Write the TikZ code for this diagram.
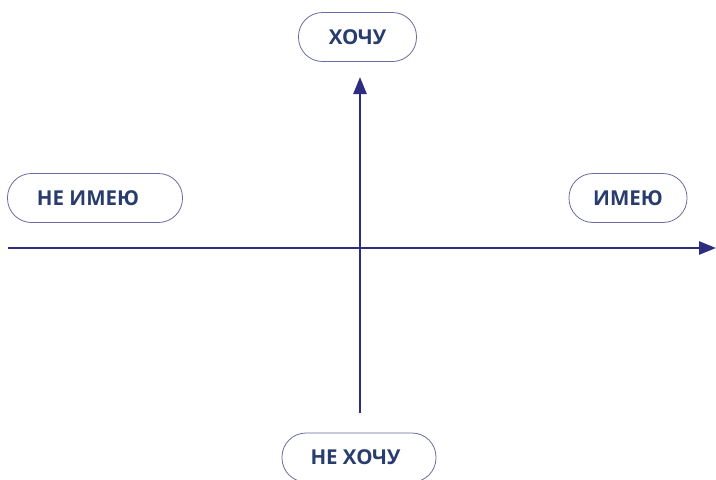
\documentclass[tikz,border=0pt]{standalone}
\usepackage{fontspec}
\setmainfont{Open Sans}
\usetikzlibrary{arrows.meta}
\definecolor{axisblue}{HTML}{2E2C80}
\definecolor{textblue}{HTML}{283C6E}
\definecolor{pillline}{HTML}{6A6AA0}
\begin{document}
\begin{tikzpicture}[x=1pt, y=-1pt,
	pill/.style={draw=pillline, line width=0.8pt, rounded corners=24pt, minimum height=49pt,
		inner sep=0pt, text=textblue, font=\fontsize{20.5}{20.5}\selectfont\bfseries},
	axis/.style={draw=axisblue, line width=2.6pt, -{Triangle[length=17pt,width=13pt]}}]
	\useasboundingbox (0,0) rectangle (716,480);
	\clip (0,0) rectangle (716,480);
	\node[pill, minimum width=118pt] (want) at (357.5,37) {ХОЧУ};
	\node[pill, minimum width=175pt] (nothave) at (95,198) {НЕ ИМЕЮ\kern14pt};
	\node[pill, minimum width=118pt] (have) at (628,198) {ИМЕЮ};
	\node[pill, minimum width=154pt] (notwant) at (359,457.5) {НЕ ХОЧУ\kern7pt};
	\coordinate (xstart) at (8,248);
	\coordinate (xend) at (716,248);
	\coordinate (ystart) at (360,413);
	\coordinate (yend) at (360,77);
	\draw[axis] (xstart) -- (xend);
	\draw[axis] (ystart) -- (yend);
\end{tikzpicture}
\end{document}
